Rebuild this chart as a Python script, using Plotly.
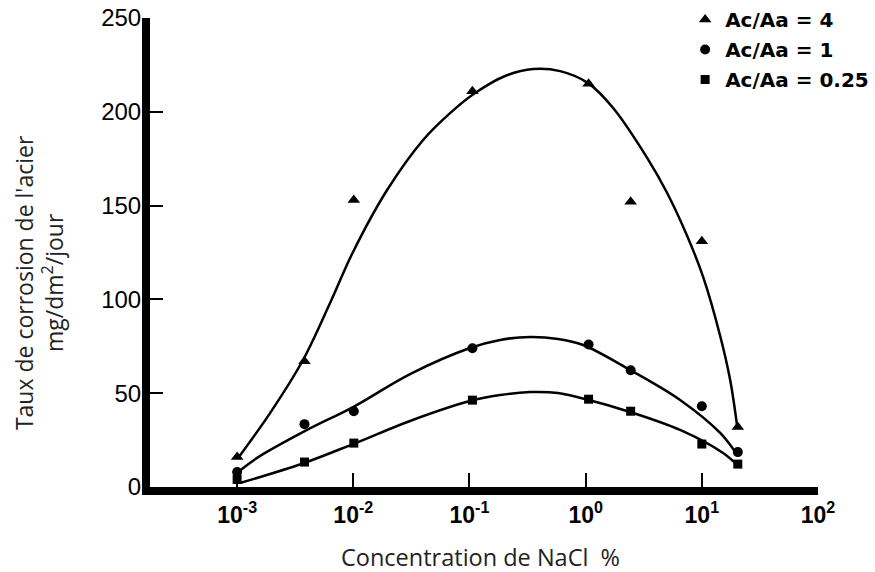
import plotly.graph_objects as go

# NaCl concentration (%) of the measured points
conc = [0.001, 0.0038, 0.0101, 0.106, 1.06, 2.44, 10.0, 20.4]

# Corrosion rate of steel (mg/dm2/day) for each cathode/anode area ratio
rate_r4 = [16, 67, 153, 211, 215, 152, 131, 32]
rate_r1 = [8, 33.5, 40.4, 74, 76, 62.2, 43, 18.6]
rate_r025 = [4, 13.3, 23.4, 46.3, 46.8, 40.4, 22.9, 12.2]

# Hand-drawn trend curves (knots along each fitted curve)
fit_r4_x = [0.00102, 0.00192, 0.00369, 0.00631, 0.00995, 0.01954, 0.0399, 0.0681,
            0.1117, 0.2026, 0.3532, 0.6026, 1.051, 1.725, 3.384, 5.03, 7.48,
            10.28, 14.39, 17.54, 20.18]
fit_r4_y = [15.5, 39.4, 67.7, 98.1, 125.3, 158.3, 185.0, 199.3,
            210.0, 219.1, 222.8, 221.7, 215.3, 202.0, 175.4, 156.7, 133.8,
            111.9, 80.5, 57.0, 32.0]
fit_r1_x = [0.00102, 0.001486, 0.0040, 0.00995, 0.0308, 0.1011, 0.1834, 0.332,
            0.579, 0.950, 2.41, 6.50, 14.39, 20.18]
fit_r1_y = [8.0, 15.5, 30.4, 42.6, 60.2, 74.1, 78.4, 80.0,
            78.9, 75.7, 62.4, 46.4, 28.8, 17.1]
fit_r025_x = [0.00106, 0.00377, 0.00995, 0.0308, 0.1011, 0.1834, 0.332, 0.579,
              0.988, 2.41, 6.50, 15.24, 20.18]
fit_r025_y = [2.1, 12.8, 22.9, 35.2, 45.8, 49.0, 50.6, 50.1,
              46.9, 40.0, 30.4, 18.1, 11.7]

series_names = ["Ac/Aa = 4", "Ac/Aa = 1", "Ac/Aa = 0.25"]
x_tickvals = [1e-3, 1e-2, 1e-1, 1e0, 1e1, 1e2]
x_ticktext = ["10<sup>-3</sup>", "10<sup>-2</sup>", "10<sup>-1</sup>",
              "10<sup>0</sup>", "10<sup>1</sup>", "10<sup>2</sup>"]
y_tickvals = [0, 50, 100, 150, 200, 250]

fig = go.Figure()

curve_style = dict(color="black", width=2.5, shape="spline", smoothing=1.0)
for fx, fy in [(fit_r4_x, fit_r4_y), (fit_r1_x, fit_r1_y), (fit_r025_x, fit_r025_y)]:
    fig.add_trace(go.Scatter(x=fx, y=fy, mode="lines", line=curve_style,
                             showlegend=False, hoverinfo="skip"))

symbols = ["triangle-up", "circle", "square"]
sizes = [11, 10, 9]
for i, (vals, name) in enumerate(zip([rate_r4, rate_r1, rate_r025], series_names)):
    fig.add_trace(go.Scatter(
        x=conc, y=vals, mode="markers", name=name, legendgroup=name,
        marker=dict(symbol=symbols[i], size=sizes[i], color="black"),
    ))

fig.update_layout(
    width=875, height=572,
    margin=dict(l=150, r=57, t=18, b=85, autoexpand=False),
    paper_bgcolor="white", plot_bgcolor="white",
    showlegend=True,
    legend=dict(
        xref="container", yref="container",
        x=0.783, y=1.0, xanchor="left", yanchor="top",
        font=dict(family="DejaVu Sans", size=20, color="black", weight="bold"),
        itemwidth=30, tracegroupgap=1, traceorder="grouped",
        bgcolor="rgba(0,0,0,0)",
    ),
    xaxis=dict(
        type="log", range=[-3.75, 2.0],
        tickvals=x_tickvals, ticktext=x_ticktext,
        ticks="inside", ticklen=14, tickwidth=2, tickcolor="black",
        showline=True, linewidth=8, linecolor="black",
        showgrid=False, zeroline=False,
        tickfont=dict(family="Liberation Sans", size=23, color="black", weight="bold"),
    ),
    yaxis=dict(
        range=[0, 250], tickvals=y_tickvals,
        ticks="inside", ticklen=13, tickwidth=2, tickcolor="black",
        showline=True, linewidth=8, linecolor="black",
        showgrid=False, zeroline=False, ticklabelstandoff=-4,
        tickfont=dict(family="Liberation Sans", size=24, color="black"),
    ),
    annotations=[
        dict(text="Taux de corrosion de l'acier<br>mg/dm<sup>2</sup>/jour",
             xref="paper", yref="paper", x=-0.166, y=0.435,
             xanchor="center", yanchor="middle", textangle=-90, showarrow=False,
             font=dict(family="Open Sans", size=23, color="#222")),
        dict(text="Concentration de NaCl  %",
             xref="paper", yref="paper", x=0.4955, y=-0.149,
             xanchor="center", yanchor="middle", showarrow=False,
             font=dict(family="Open Sans", size=23.5, color="#222")),
    ],
)

fig.write_html("out.html")
